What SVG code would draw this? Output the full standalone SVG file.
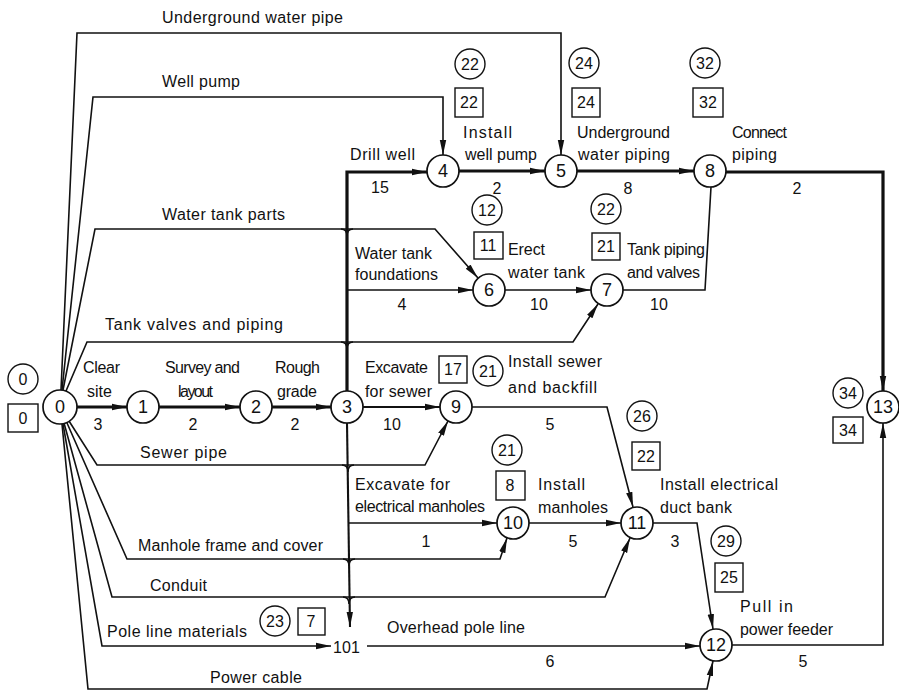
<svg xmlns="http://www.w3.org/2000/svg" width="899" height="691" viewBox="0 0 899 691">
<style>
text{font-family:"Liberation Sans",Arial,sans-serif;font-size:16px;fill:#111}
.c{text-anchor:middle}
.nd{fill:#fff;stroke:#111;stroke-width:1.7}
.nt{font-size:18px;text-anchor:middle}
.ac{fill:none;stroke:#111;stroke-width:1.4}
.ab{fill:none;stroke:#111;stroke-width:1.4}
.t{fill:none;stroke:#111;stroke-width:1.6}
.m{fill:none;stroke:#111;stroke-width:2.1}
.k{fill:none;stroke:#111;stroke-width:3.2}
</style>
<defs>
<marker id="ar" markerUnits="userSpaceOnUse" markerWidth="16" markerHeight="8" refX="15" refY="4" orient="auto">
<path d="M0,0.8 L15,4 L0,7.2 z" fill="#111"/>
</marker>
</defs>
<rect width="899" height="691" fill="#fff"/>
<g id="connectors">
<path class="t" d="M61,390 L77,33 L561,33 L561,155" marker-end="url(#ar)"/>
<path class="t" d="M62,390 L93,97 L443,97 L443,155" marker-end="url(#ar)"/>
<path class="t" d="M63,390 L95,229 L435,229 L478,278" marker-end="url(#ar)"/>
<path class="t" d="M66,391 L87,342 L573,342 L598,304" marker-end="url(#ar)"/>
<path class="k" d="M77,407 L127,407" marker-end="url(#ar)"/>
<path class="k" d="M159,407 L240,407" marker-end="url(#ar)"/>
<path class="k" d="M272,407 L331,407" marker-end="url(#ar)"/>
<path class="k" d="M347,391 L347,172 L427,172" marker-end="url(#ar)"/>
<path class="k" d="M459,171 L545,171" marker-end="url(#ar)"/>
<path class="k" d="M577,171 L694,171" marker-end="url(#ar)"/>
<path class="k" d="M726,172 L883,172 L883,391" marker-end="url(#ar)"/>
<path class="t" d="M347,290 L473,290" marker-end="url(#ar)"/>
<path class="t" d="M505,290 L591,290" marker-end="url(#ar)"/>
<path class="t" d="M623,290 L705,290 L711,187"/>
<path class="m" d="M363,407 L440,407" marker-end="url(#ar)"/>
<path class="t" d="M69,421 L97,465 L425,465 L448,421" marker-end="url(#ar)"/>
<path class="t" d="M472,407 L607,407 L633,507" marker-end="url(#ar)"/>
<path class="m" d="M347,423 L350,627" marker-end="url(#ar)"/>
<path class="t" d="M348,523 L497,523" marker-end="url(#ar)"/>
<path class="t" d="M67,423 L127,559 L500,559 L507,538" marker-end="url(#ar)"/>
<path class="t" d="M529,523 L621,523" marker-end="url(#ar)"/>
<path class="t" d="M64,423 L112,597 L605,597 L630,538" marker-end="url(#ar)"/>
<path class="t" d="M653,523 L697,523 L713,629" marker-end="url(#ar)"/>
<path class="t" d="M63,424 L102,646 L331,646" marker-end="url(#ar)"/>
<path class="t" d="M367,646 L700,646" marker-end="url(#ar)"/>
<path class="t" d="M62,424 L88,689 L707,689 L713,661" marker-end="url(#ar)"/>
<path class="t" d="M732,645 L883,645 L883,423" marker-end="url(#ar)"/>
<path class="t" d="M341,229 Q347,229 347,236 Q347,229 353,229"/>
<path class="t" d="M341,342 Q347,342 347,349 Q347,342 353,342"/>
<path class="t" d="M342,465 Q348,465 348,472 Q348,465 354,465"/>
<path class="t" d="M343,559 Q349,559 349,566 Q349,559 355,559"/>
<path class="t" d="M343,597 Q349,597 349,604 Q349,597 355,597"/>
</g>
<g id="labels">
<text x="162" y="23" textLength="181">Underground water pipe</text>
<text x="162" y="87" textLength="78">Well pump</text>
<text x="350" y="160" textLength="65">Drill well</text>
<text x="380" y="193" class="c">15</text>
<text x="162" y="220" textLength="123">Water tank parts</text>
<text x="463" y="138" textLength="49">Install</text>
<text x="465" y="160" textLength="72">well pump</text>
<text x="497" y="194" class="c">2</text>
<text x="577" y="138" textLength="93">Underground</text>
<text x="578" y="160" textLength="92">water piping</text>
<text x="628" y="194" class="c">8</text>
<text x="732" y="138" textLength="55">Connect</text>
<text x="732" y="160" textLength="45">piping</text>
<text x="797" y="194" class="c">2</text>
<text x="355" y="259" textLength="77">Water tank</text>
<text x="355" y="280" textLength="83">foundations</text>
<text x="402" y="310" class="c">4</text>
<text x="508" y="255" textLength="37">Erect</text>
<text x="508" y="278" textLength="77">water tank</text>
<text x="539" y="310" class="c">10</text>
<text x="627" y="255" textLength="78">Tank piping</text>
<text x="627" y="278" textLength="73">and valves</text>
<text x="659" y="310" class="c">10</text>
<text x="105" y="330" textLength="178">Tank valves and piping</text>
<text x="83" y="373" textLength="37">Clear</text>
<text x="87" y="397" textLength="25">site</text>
<text x="98" y="430" class="c">3</text>
<text x="165" y="373" textLength="75">Survey and</text>
<text x="178" y="397" textLength="35">layout</text>
<text x="193" y="430" class="c">2</text>
<text x="275" y="373" textLength="45">Rough</text>
<text x="277" y="397" textLength="40">grade</text>
<text x="295" y="430" class="c">2</text>
<text x="365" y="373" textLength="63">Excavate</text>
<text x="365" y="397" textLength="67">for sewer</text>
<text x="392" y="430" class="c">10</text>
<text x="508" y="367" textLength="94">Install sewer</text>
<text x="508" y="393" textLength="89">and backfill</text>
<text x="550" y="430" class="c">5</text>
<text x="140" y="458" textLength="87">Sewer pipe</text>
<text x="355" y="490" textLength="95">Excavate for</text>
<text x="355" y="512" textLength="130">electrical manholes</text>
<text x="426" y="547" class="c">1</text>
<text x="538" y="490" textLength="47">Install</text>
<text x="538" y="513" textLength="70">manholes</text>
<text x="573" y="547" class="c">5</text>
<text x="660" y="490" textLength="118">Install electrical</text>
<text x="660" y="513" textLength="72">duct bank</text>
<text x="675" y="547" class="c">3</text>
<text x="138" y="551" textLength="185">Manhole frame and cover</text>
<text x="150" y="591" textLength="57">Conduit</text>
<text x="107" y="637" textLength="140">Pole line materials</text>
<text x="387" y="633" textLength="138">Overhead pole line</text>
<text x="550" y="667" class="c">6</text>
<text x="740" y="612" textLength="53">Pull in</text>
<text x="740" y="635" textLength="93">power feeder</text>
<text x="803" y="667" class="c">5</text>
<text x="210" y="683" textLength="92">Power cable</text>
</g>
<g id="node-0"><circle class="nd" cx="60" cy="407" r="17"/><text class="nt" x="60" y="413">0</text>
<circle class="ac" cx="23" cy="379" r="15"/><text class="c" x="23" y="385">0</text>
<rect class="ab" x="8" y="404" width="30" height="28"/><text class="c" x="23" y="424">0</text></g>
<g id="node-1"><circle class="nd" cx="143" cy="407" r="16"/><text class="nt" x="143" y="413">1</text></g>
<g id="node-2"><circle class="nd" cx="256" cy="407" r="16"/><text class="nt" x="256" y="413">2</text></g>
<g id="node-3"><circle class="nd" cx="347" cy="407" r="16"/><text class="nt" x="347" y="413">3</text></g>
<g id="node-4"><circle class="nd" cx="443" cy="171" r="16"/><text class="nt" x="443" y="177">4</text>
<circle class="ac" cx="470" cy="64" r="15"/><text class="c" x="470" y="70">22</text>
<rect class="ab" x="455" y="88" width="28" height="29"/><text class="c" x="469" y="108">22</text></g>
<g id="node-5"><circle class="nd" cx="561" cy="171" r="16"/><text class="nt" x="561" y="177">5</text>
<circle class="ac" cx="584" cy="63" r="15"/><text class="c" x="584" y="69">24</text>
<rect class="ab" x="572" y="88" width="28" height="29"/><text class="c" x="586" y="108">24</text></g>
<g id="node-6"><circle class="nd" cx="489" cy="290" r="16"/><text class="nt" x="489" y="296">6</text>
<circle class="ac" cx="487" cy="210" r="15"/><text class="c" x="487" y="216">12</text>
<rect class="ab" x="474" y="232" width="29" height="27"/><text class="c" x="488" y="251">11</text></g>
<g id="node-7"><circle class="nd" cx="607" cy="290" r="16"/><text class="nt" x="607" y="296">7</text>
<circle class="ac" cx="606" cy="209" r="15"/><text class="c" x="606" y="215">22</text>
<rect class="ab" x="592" y="233" width="28" height="27"/><text class="c" x="606" y="252">21</text></g>
<g id="node-8"><circle class="nd" cx="710" cy="171" r="16"/><text class="nt" x="710" y="177">8</text>
<circle class="ac" cx="705" cy="63" r="15"/><text class="c" x="705" y="69">32</text>
<rect class="ab" x="693" y="88" width="30" height="29"/><text class="c" x="708" y="108">32</text></g>
<g id="node-9"><circle class="nd" cx="456" cy="407" r="16"/><text class="nt" x="456" y="413">9</text>
<rect class="ab" x="439" y="356" width="28" height="27"/><text class="c" x="453" y="375">17</text>
<circle class="ac" cx="488" cy="371" r="15"/><text class="c" x="488" y="377">21</text></g>
<g id="node-10"><circle class="nd" cx="513" cy="523" r="16"/><text class="nt" x="513" y="529">10</text>
<circle class="ac" cx="507" cy="450" r="15"/><text class="c" x="507" y="456">21</text>
<rect class="ab" x="496" y="471" width="29" height="29"/><text class="c" x="510" y="491">8</text></g>
<g id="node-11"><circle class="nd" cx="637" cy="523" r="16"/><text class="nt" x="637" y="529">11</text>
<circle class="ac" cx="642" cy="416" r="15"/><text class="c" x="642" y="422">26</text>
<rect class="ab" x="632" y="442" width="28" height="28"/><text class="c" x="646" y="462">22</text></g>
<g id="node-12"><circle class="nd" cx="716" cy="645" r="16"/><text class="nt" x="716" y="651">12</text>
<circle class="ac" cx="726" cy="541" r="15"/><text class="c" x="726" y="547">29</text>
<rect class="ab" x="715" y="563" width="28" height="29"/><text class="c" x="729" y="583">25</text></g>
<g id="node-13"><circle class="nd" cx="883" cy="407" r="16"/><text class="nt" x="883" y="413">13</text>
<circle class="ac" cx="848" cy="393" r="15"/><text class="c" x="848" y="399">34</text>
<rect class="ab" x="833" y="417" width="30" height="26"/><text class="c" x="848" y="436">34</text></g>
<g id="node-101"><text x="333" y="653" textLength="27">101</text>
<circle class="ac" cx="275" cy="621" r="15"/><text class="c" x="275" y="627">23</text>
<rect class="ab" x="298" y="608" width="27" height="27"/><text class="c" x="311" y="627">7</text></g>
</svg>
